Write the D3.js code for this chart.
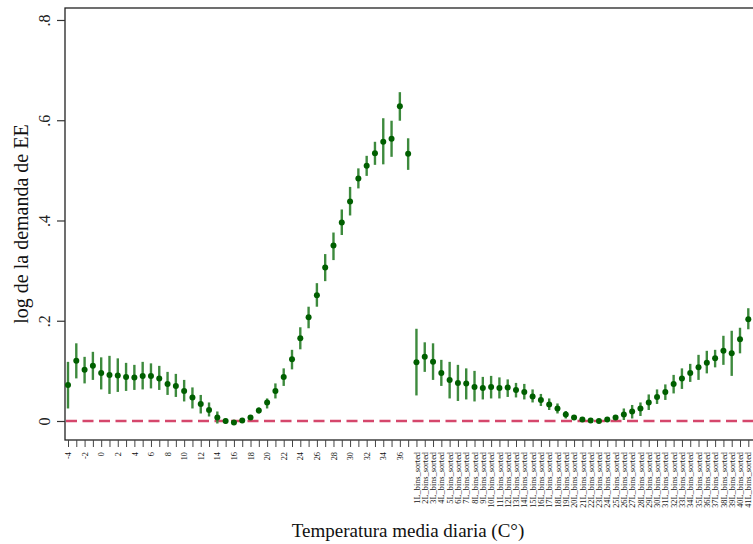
<!DOCTYPE html>
<html>
<head>
<meta charset="utf-8">
<script src="https://cdn.jsdelivr.net/npm/d3@7"></script>
<style>
  body { margin: 0; background: #fff; }
  text { font-family: "Liberation Serif", "Times New Roman", serif; }
</style>
</head>
<body>
<div id="chart"></div>
<script>
// Temperature categories (first block) and sorted-bin categories (second block)
const tempCats = [-4, -3, -2, -1, 0, 1, 2, 3, 4, 5, 6, 7, 8, 9, 10, 11, 12, 13, 14, 15, 16,
  17, 18, 19, 20, 21, 22, 23, 24, 25, 26, 27, 28, 29, 30, 31, 32, 33, 34, 35, 36, 37];
const binCats = ["1L_bins_sorted", "2L_bins_sorted", "3L_bins_sorted", "4L_bins_sorted",
  "5L_bins_sorted", "6L_bins_sorted", "7L_bins_sorted", "8L_bins_sorted", "9L_bins_sorted",
  "10L_bins_sorted", "11L_bins_sorted", "12L_bins_sorted", "13L_bins_sorted", "14L_bins_sorted",
  "15L_bins_sorted", "16L_bins_sorted", "17L_bins_sorted", "18L_bins_sorted", "19L_bins_sorted",
  "20L_bins_sorted", "21L_bins_sorted", "22L_bins_sorted", "23L_bins_sorted", "24L_bins_sorted",
  "25L_bins_sorted", "26L_bins_sorted", "27L_bins_sorted", "28L_bins_sorted", "29L_bins_sorted",
  "30L_bins_sorted", "31L_bins_sorted", "32L_bins_sorted", "33L_bins_sorted", "34L_bins_sorted",
  "35L_bins_sorted", "36L_bins_sorted", "37L_bins_sorted", "38L_bins_sorted", "39L_bins_sorted",
  "40L_bins_sorted", "41L_bins_sorted"];

// Point estimates and confidence bounds, temperature block
const tempEst = [0.072, 0.120, 0.102, 0.110, 0.096, 0.092, 0.091, 0.088, 0.087, 0.090, 0.090,
  0.085, 0.074, 0.070, 0.060, 0.047, 0.034, 0.022, 0.007, 0.000, -0.003, 0.001, 0.007, 0.021,
  0.037, 0.060, 0.088, 0.123, 0.165, 0.207, 0.251, 0.306, 0.350, 0.396, 0.438, 0.484, 0.509,
  0.534, 0.557, 0.563, 0.628, 0.533];
const tempLo = [0.025, 0.085, 0.075, 0.082, 0.063, 0.054, 0.058, 0.060, 0.062, 0.063, 0.065,
  0.062, 0.052, 0.048, 0.039, 0.025, 0.015, 0.009, -0.005, -0.005, -0.007, -0.003, 0.002, 0.015,
  0.025, 0.045, 0.070, 0.103, 0.143, 0.185, 0.228, 0.279, 0.321, 0.371, 0.410, 0.464, 0.489,
  0.511, 0.512, 0.527, 0.599, 0.501];
const tempHi = [0.118, 0.155, 0.128, 0.138, 0.127, 0.130, 0.125, 0.116, 0.112, 0.118, 0.115,
  0.110, 0.098, 0.094, 0.082, 0.067, 0.052, 0.037, 0.019, 0.005, 0.001, 0.005, 0.012, 0.027,
  0.045, 0.075, 0.105, 0.142, 0.187, 0.228, 0.275, 0.333, 0.376, 0.422, 0.467, 0.504, 0.529,
  0.557, 0.604, 0.599, 0.656, 0.564];

// Point estimates and confidence bounds, sorted-bin block
const binEst = [0.117, 0.128, 0.118, 0.096, 0.082, 0.076, 0.075, 0.068, 0.066, 0.068, 0.066,
  0.067, 0.062, 0.058, 0.049, 0.042, 0.033, 0.025, 0.013, 0.007, 0.003, 0.001, 0.000, 0.003,
  0.007, 0.013, 0.019, 0.025, 0.037, 0.048, 0.058, 0.074, 0.085, 0.096, 0.107, 0.116, 0.125,
  0.140, 0.135, 0.163, 0.203];
const binLo = [0.051, 0.098, 0.082, 0.070, 0.045, 0.040, 0.043, 0.039, 0.043, 0.045, 0.045,
  0.048, 0.047, 0.043, 0.037, 0.030, 0.022, 0.015, 0.005, 0.002, -0.001, -0.002, -0.003, 0.000,
  0.002, 0.002, 0.005, 0.010, 0.022, 0.034, 0.042, 0.055, 0.064, 0.078, 0.082, 0.095, 0.107,
  0.112, 0.090, 0.135, 0.183];
const binHi = [0.184, 0.157, 0.155, 0.122, 0.118, 0.112, 0.105, 0.100, 0.088, 0.090, 0.087,
  0.083, 0.076, 0.074, 0.063, 0.054, 0.045, 0.035, 0.020, 0.012, 0.007, 0.004, 0.003, 0.006,
  0.012, 0.025, 0.032, 0.037, 0.053, 0.063, 0.073, 0.092, 0.105, 0.114, 0.132, 0.140, 0.142,
  0.170, 0.180, 0.186, 0.225];

const yTicks = [0, 0.2, 0.4, 0.6, 0.8];
const yTickLabels = ["0", ".2", ".4", ".6", ".8"];

// Combine both blocks into one category axis
const categories = tempCats.map(String).concat(binCats);
const data = categories.map((c, i) => i < tempCats.length
  ? { cat: c, est: tempEst[i], lo: tempLo[i], hi: tempHi[i] }
  : { cat: c, est: binEst[i - tempCats.length], lo: binLo[i - tempCats.length], hi: binHi[i - tempCats.length] });

const W = 753, H = 544;
const plot = { left: 65, top: 8, bottom: 440, right: 762 };

const svg = d3.select("#chart").append("svg")
    .attr("width", W)
    .attr("height", H);

const x = d3.scalePoint().domain(categories).range([68, 748.3]);
const y = d3.scaleLinear().domain([-0.0379, 0.8239]).range([plot.bottom, plot.top]);

// Frame (top and left / bottom axis lines)
svg.append("rect")
    .attr("x", plot.left)
    .attr("y", plot.top)
    .attr("width", plot.right - plot.left)
    .attr("height", plot.bottom - plot.top)
    .attr("fill", "none")
    .attr("stroke", "#222")
    .attr("stroke-width", 1.3);

// Reference line at zero
svg.append("line")
    .attr("x1", plot.left + 1)
    .attr("x2", plot.right)
    .attr("y1", y(0))
    .attr("y2", y(0))
    .attr("stroke", "#d5476c")
    .attr("stroke-width", 2.5)
    .attr("stroke-dasharray", "11,5.5");

// Confidence intervals
svg.append("g")
    .selectAll("line")
    .data(data)
    .join("line")
    .attr("x1", d => x(d.cat))
    .attr("x2", d => x(d.cat))
    .attr("y1", d => y(d.lo))
    .attr("y2", d => y(d.hi))
    .attr("stroke", "#3d8a3d")
    .attr("stroke-width", 2.4);

// Point estimates
svg.append("g")
    .selectAll("circle")
    .data(data)
    .join("circle")
    .attr("cx", d => x(d.cat))
    .attr("cy", d => y(d.est))
    .attr("r", 3)
    .attr("fill", "#005f00");

// X axis
const xAxis = svg.append("g")
    .attr("transform", `translate(0,${plot.bottom})`)
    .call(d3.axisBottom(x)
        .tickSize(7)
        .tickFormat(d => {
            const n = +d;
            if (isNaN(n)) return d;
            return n % 2 === 0 ? String(n) : "";
        }));
xAxis.select(".domain").remove();
xAxis.selectAll(".tick line").attr("stroke", "#444").attr("stroke-width", 1);
xAxis.selectAll(".tick text")
    .attr("x", -12)
    .attr("y", 0)
    .attr("dy", "0.32em")
    .attr("transform", "rotate(-90)")
    .style("text-anchor", "end")
    .style("font-size", "8.3px")
    .attr("fill", "#111");

// Y axis
const yAxis = svg.append("g")
    .attr("transform", `translate(${plot.left},0)`)
    .call(d3.axisLeft(y)
        .tickValues(yTicks)
        .tickSize(8)
        .tickFormat((d, i) => yTickLabels[i]));
yAxis.select(".domain").remove();
yAxis.selectAll(".tick line").attr("stroke", "#333").attr("stroke-width", 1.2);
yAxis.selectAll(".tick text")
    .attr("x", 0)
    .attr("y", 0)
    .attr("dy", 0)
    .attr("transform", "translate(-15,0) rotate(-90)")
    .style("text-anchor", "middle")
    .style("font-size", "16px")
    .attr("fill", "#222");

// Axis titles
svg.append("text")
    .attr("x", 408)
    .attr("y", 537)
    .attr("text-anchor", "middle")
    .style("font-size", "19px")
    .attr("fill", "#111")
    .text("Temperatura media diaria (C°)");

svg.append("text")
    .attr("transform", `translate(28,${(plot.top + plot.bottom) / 2}) rotate(-90)`)
    .attr("text-anchor", "middle")
    .style("font-size", "20px")
    .attr("fill", "#111")
    .text("log de la demanda de EE");
</script>
</body>
</html>
